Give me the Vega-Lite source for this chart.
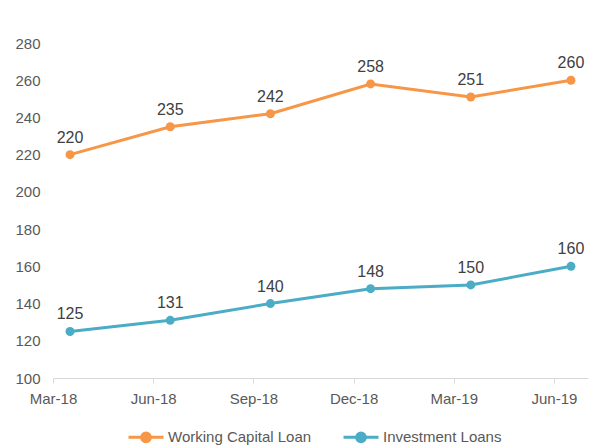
{
  "$schema": "https://vega.github.io/schema/vega-lite/v6.json",
  "width": 535,
  "height": 335,
  "autosize": {"type": "none"},
  "padding": {"left": 53, "top": 43, "right": 7, "bottom": 69},
  "background": "white",
  "config": {
    "view": {"stroke": null},
    "font": "Liberation Sans",
    "axis": {"labelFont": "Liberation Sans", "labelColor": "#595959", "labelFontSize": 15, "grid": false}
  },
  "data": {
    "values": [
      {"period": "Mar-18", "series": "Working Capital Loan", "value": 220},
      {"period": "Jun-18", "series": "Working Capital Loan", "value": 235},
      {"period": "Sep-18", "series": "Working Capital Loan", "value": 242},
      {"period": "Dec-18", "series": "Working Capital Loan", "value": 258},
      {"period": "Mar-19", "series": "Working Capital Loan", "value": 251},
      {"period": "Jun-19", "series": "Working Capital Loan", "value": 260},
      {"period": "Mar-18", "series": "Investment Loans", "value": 125},
      {"period": "Jun-18", "series": "Investment Loans", "value": 131},
      {"period": "Sep-18", "series": "Investment Loans", "value": 140},
      {"period": "Dec-18", "series": "Investment Loans", "value": 148},
      {"period": "Mar-19", "series": "Investment Loans", "value": 150},
      {"period": "Jun-19", "series": "Investment Loans", "value": 160}
    ]
  },
  "encoding": {
    "x": {
      "field": "period", "type": "ordinal", "sort": null,
      "scale": {"type": "point", "padding": 0.17},
      "axis": {"title": null, "labelAngle": 0, "domainColor": "#d9d9d9", "tickColor": "#d9d9d9", "tickSize": 5, "tickOffset": -17, "labelPadding": 8}
    },
    "y": {
      "field": "value", "type": "quantitative",
      "scale": {"domain": [100, 280], "nice": false, "zero": false},
      "axis": {"title": null, "values": [100,120,140,160,180,200,220,240,260,280], "domain": false, "ticks": false, "labelPadding": 13}
    },
    "color": {
      "field": "series", "type": "nominal",
      "scale": {"domain": ["Working Capital Loan", "Investment Loans"], "range": ["#F79646", "#4BACC6"]},
      "legend": {
        "title": null, "orient": "none", "direction": "horizontal",
        "legendX": 74, "legendY": 375,
        "symbolType": "M-1,0L1,0M0.25,0A0.25,0.25 0 1,1 -0.25,0A0.25,0.25 0 1,1 0.25,0Z",
        "symbolSize": 1225, "symbolStrokeWidth": 3,
        "labelFontSize": 15, "labelColor": "#595959", "labelFont": "Liberation Sans",
        "labelOffset": 3, "columnPadding": 25
      }
    }
  },
  "layer": [
    {"mark": {"type": "line", "strokeWidth": 3, "point": {"filled": true, "size": 80, "opacity": 1}}},
    {"mark": {"type": "text", "dy": -17, "fontSize": 16, "color": "#404040", "font": "Liberation Sans"},
     "encoding": {"text": {"field": "value", "type": "quantitative"}, "color": {"value": "#404040"}}}
  ]
}
